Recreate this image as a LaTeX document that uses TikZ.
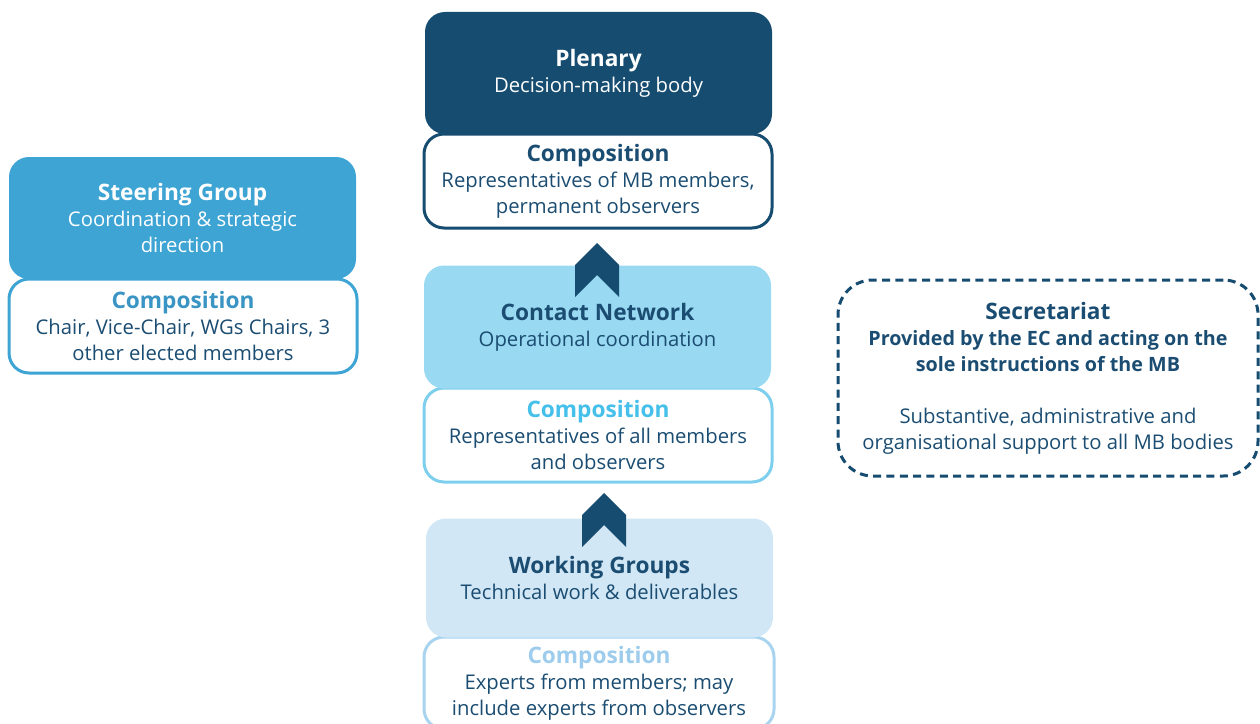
\documentclass[tikz,border=0pt]{standalone}
\usepackage{fontspec}
\setmainfont{Open Sans}
\definecolor{dark}{HTML}{164C70}
\definecolor{txt}{HTML}{1B4D72}
\definecolor{steer}{HTML}{3DA4D4}
\definecolor{steertitle}{HTML}{3A95C4}
\definecolor{cnfill}{HTML}{99D9F1}
\definecolor{cnborder}{HTML}{7ECFEE}
\definecolor{cntitle}{HTML}{45C0EA}
\definecolor{wgfill}{HTML}{D1E7F5}
\definecolor{wgborder}{HTML}{A8D4F0}
\definecolor{wgtitle}{HTML}{9DCCEC}
\newcommand{\ttlfont}{\fontsize{17}{21}\selectfont\bfseries}
\tikzset{
  body/.style={rounded corners=15pt, align=center, inner sep=0pt, font=\fontsize{15.2}{19.5}\selectfont, text=txt},
  headbox/.style={body, minimum width=260.25pt, minimum height=91.5pt},
  compbox/.style={body, fill=white, line width=2.25pt, minimum width=261pt, minimum height=70.5pt},
  chev/.style={fill=dark}
}
\newcommand{\chevron}[1]{\fill[chev] ($(#1)+(-22,-5)$) -- ($(#1)+(0,-27)$) -- ($(#1)+(22,-5)$) -- ($(#1)+(22,27)$) -- ($(#1)+(0,5)$) -- ($(#1)+(-22,27)$) -- cycle;}
\usetikzlibrary{calc}
\begin{document}
\begin{tikzpicture}[x=0.75pt,y=-0.75pt]
\useasboundingbox (0,0) rectangle (1260,724);
% Plenary
\node[compbox, draw=dark] (plc) at (598,181) {{\ttlfont Composition}\\Representatives of MB members,\\permanent observers};
\node[headbox, fill=dark, text=white] (pl) at (598.5,73) {{\ttlfont Plenary}\\Decision-making body};
% Steering
\node[compbox, draw=steer] (sgc) at (183,326) {{\ttlfont\color{steertitle}Composition}\\Chair, Vice-Chair, WGs Chairs, 3\\other elected members};
\node[headbox, fill=steer, text=white] (sg) at (182.5,218) {{\ttlfont Steering Group}\\Coordination \& strategic\\direction};
% Contact network
\node[compbox, draw=cnborder] (cnc) at (598,435) {{\ttlfont\color{cntitle}Composition}\\Representatives of all members\\and observers};
\node[headbox, fill=cnfill, minimum height=92.25pt] (cn) at (597.5,327) {{\ttlfont Contact Network}\\Operational coordination};
% Working groups
\node[compbox, draw=wgborder, minimum width=262.5pt, minimum height=69pt] (wgc) at (599,683) {{\ttlfont\color{wgtitle}Composition}\\Experts from members; may\\include experts from observers};
\node[headbox, fill=wgfill, minimum height=89.25pt] (wg) at (599.5,578) {{\ttlfont Working Groups}\\Technical work \& deliverables};
% Secretariat
\node[body, draw=dark, line width=2.25pt, dash pattern=on 6pt off 4pt, rounded corners=26pt, minimum width=315pt, minimum height=147pt] (sec) at (1048,378) {{\ttlfont Secretariat}\\{\fontsize{14.8}{19.5}\selectfont\bfseries Provided by the EC and acting on the}\\{\fontsize{14.8}{19.5}\selectfont\bfseries sole instructions of the MB}\\[19.5pt]Substantive, administrative and\\organisational support to all MB bodies};
% chevrons
\coordinate (a1) at (597,270);
\coordinate (a2) at (604,520);
\chevron{a1}
\chevron{a2}
\end{tikzpicture}
\end{document}
